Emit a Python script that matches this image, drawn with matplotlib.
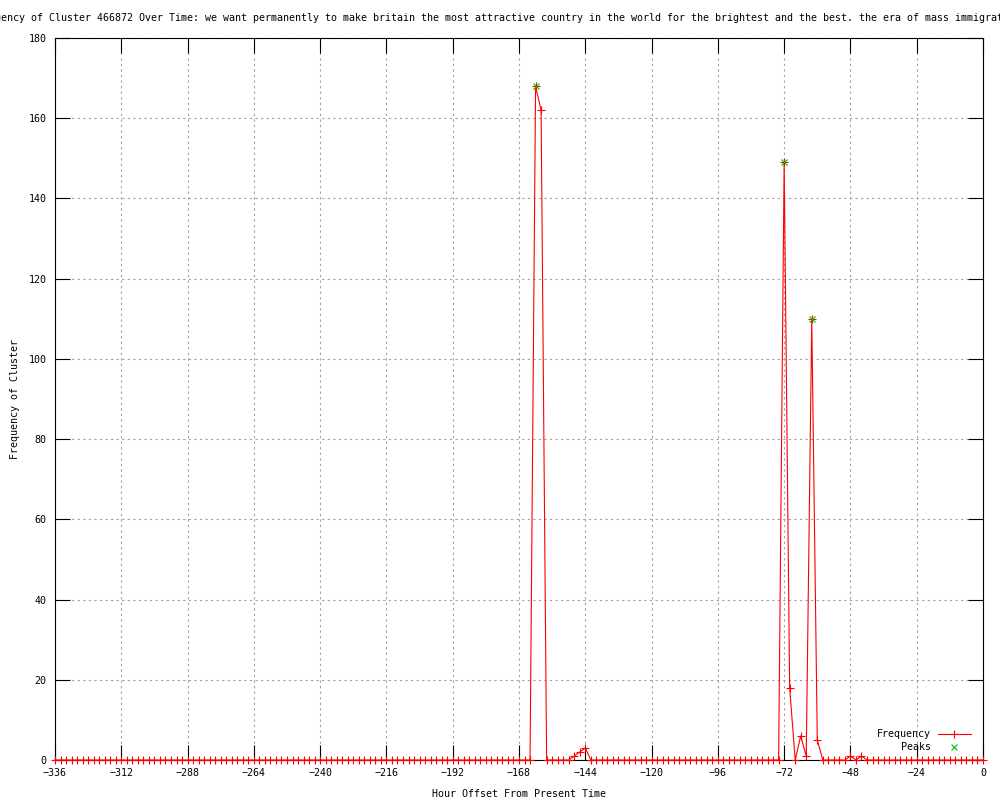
import matplotlib
matplotlib.use("Agg")
import matplotlib.pyplot as plt
from matplotlib.lines import Line2D

# hours sampled every 2h from -336 to 0; everything not listed below is zero
HOUR_START = -336
HOUR_END = 0
HOUR_STEP = 2

active_hours = [-162, -160, -148, -146, -144, -72, -70, -66, -64, -62, -60, -48, -44]
active_counts = [168, 162, 1, 2, 3, 149, 18, 6, 1, 110, 5, 1, 1]

peak_hours = [-162, -72, -62]
peak_counts = [168, 149, 110]

x_ticks = list(range(-336, 1, 24))
y_ticks = list(range(0, 181, 20))

TITLE = ("Frequency of Cluster 466872 Over Time: we want permanently to make britain the most "
         "attractive country in the world for the brightest and the best. the era of mass "
         "immigration is over")

hours = list(range(HOUR_START, HOUR_END + 1, HOUR_STEP))
lookup = dict(zip(active_hours, active_counts))
counts = [lookup.get(h, 0) for h in hours]

FONT = "DejaVu Sans Mono"
FS = 7.2
plt.rcParams["font.family"] = FONT
plt.rcParams["font.size"] = FS

fig = plt.figure(figsize=(10, 8), dpi=100)
ax = fig.add_axes([0.055, 0.05, 0.928, 0.9025])

ax.plot(hours, counts, color="#ff0000", linewidth=0.8, marker="+", markersize=6,
        markeredgewidth=0.8, label="Frequency", clip_on=False, zorder=3)
ax.plot(peak_hours, peak_counts, linestyle="none", marker="x", color="#00c000",
        markersize=5, markeredgewidth=0.8, label="Peaks", zorder=4, clip_on=False)

ax.set_xlim(-336, 0)
ax.set_ylim(0, 180)
ax.set_xticks(x_ticks)
ax.set_yticks(y_ticks)
ax.grid(True, color="#a0a0a0", linestyle=(0, (2, 3)), linewidth=0.8)
ax.set_axisbelow(True)
ax.tick_params(direction="in", length=11, width=0.8, top=True, right=True,
               labelsize=FS, pad=6)
for s in ax.spines.values():
    s.set_linewidth(0.8)
    s.set_color("black")

ax.set_xlabel("Hour Offset From Present Time", fontsize=FS, labelpad=8)
ax.set_ylabel("Frequency of Cluster", fontsize=FS, labelpad=6)

# gnuplot-style centred title that overflows the canvas on both sides
fig.text(-29 / 1000, 1 - 18 / 800, TITLE, ha="left", va="center", fontsize=FS)

handles = [
    Line2D([], [], color="#ff0000", linewidth=0.8, marker="+", markersize=6, markeredgewidth=0.8),
    Line2D([], [], linestyle="none", color="#00c000", marker="x", markersize=5, markeredgewidth=0.8),
]
ax.legend(handles, ["Frequency", "Peaks"], loc="lower right", bbox_to_anchor=(0.987, 0.011),
          frameon=False, markerfirst=False, fontsize=FS, handlelength=3.3,
          handletextpad=0.7, labelspacing=0.3, borderaxespad=0, borderpad=0)

fig.savefig("out.png", dpi=100)
